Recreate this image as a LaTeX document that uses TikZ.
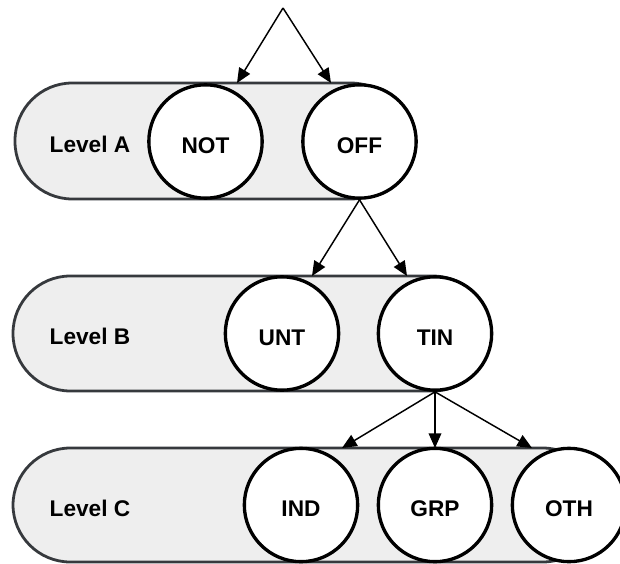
\documentclass[tikz,border=0pt]{standalone}
\usepackage{fontspec}
\setmainfont{Liberation Sans}
\usetikzlibrary{arrows.meta}
\definecolor{barfill}{HTML}{EEEEEE}
\definecolor{barline}{HTML}{36393D}
\begin{document}
\begin{tikzpicture}[x=0.75pt,y=-0.75pt,
  txt/.style={font=\fontsize{17pt}{18pt}\selectfont\bfseries, text depth=0pt},
  bar/.style={draw=barline, fill=barfill, line width=2.1pt, rounded corners=43pt},
  cat/.style={txt, text height=17.4pt, circle, draw=black, fill=white, line width=2.5pt, minimum size=85pt, inner sep=0pt},
  lvl/.style={txt, text height=12.2pt, inner sep=0pt},
  arr/.style={draw=black, line width=1.1pt, -{Triangle[length=11pt,width=9.5pt]}}]
\useasboundingbox (0,0) rectangle (620,563);
\clip (0,0) rectangle (620,563);
% bars
\path[bar] (15,83) rectangle (408,199);
\path[bar] (13,276) rectangle (490,391);
\path[bar] (13,448) rectangle (600,562);
% level labels
\node[lvl] (la) at (90,144.5) {Level A};
\node[lvl] (lb) at (90,336) {Level B};
\node[lvl] (lc) at (90,508) {Level C};
% circles
\node[cat] (NOT) at (205.5,141.5) {NOT};
\node[cat] (OFF) at (359.5,141.5) {OFF};
\node[cat] (UNT) at (282,333.5) {UNT};
\node[cat] (TIN) at (435,333.5) {TIN};
\node[cat] (IND) at (301,505) {IND};
\node[cat] (GRP) at (435,505) {GRP};
\node[cat] (OTH) at (569,505) {OTH};
% arrow end points
\coordinate (top) at (283,8);
\coordinate (tNOT) at (237,83);
\coordinate (tOFF) at (331,83);
\coordinate (tUNT) at (312,276);
\coordinate (tTIN) at (407,276);
\coordinate (tIND) at (342,448);
\coordinate (tGRP) at (435,448);
\coordinate (tOTH) at (532,448);
% arrows
\draw[arr] (top) -- (tNOT);
\draw[arr] (top) -- (tOFF);
\draw[arr] (OFF.south) -- (tUNT);
\draw[arr] (OFF.south) -- (tTIN);
\draw[arr] (TIN.south) -- (tIND);
\draw[arr] (TIN.south) -- (tGRP);
\draw[arr] (TIN.south) -- (tOTH);
\end{tikzpicture}
\end{document}
